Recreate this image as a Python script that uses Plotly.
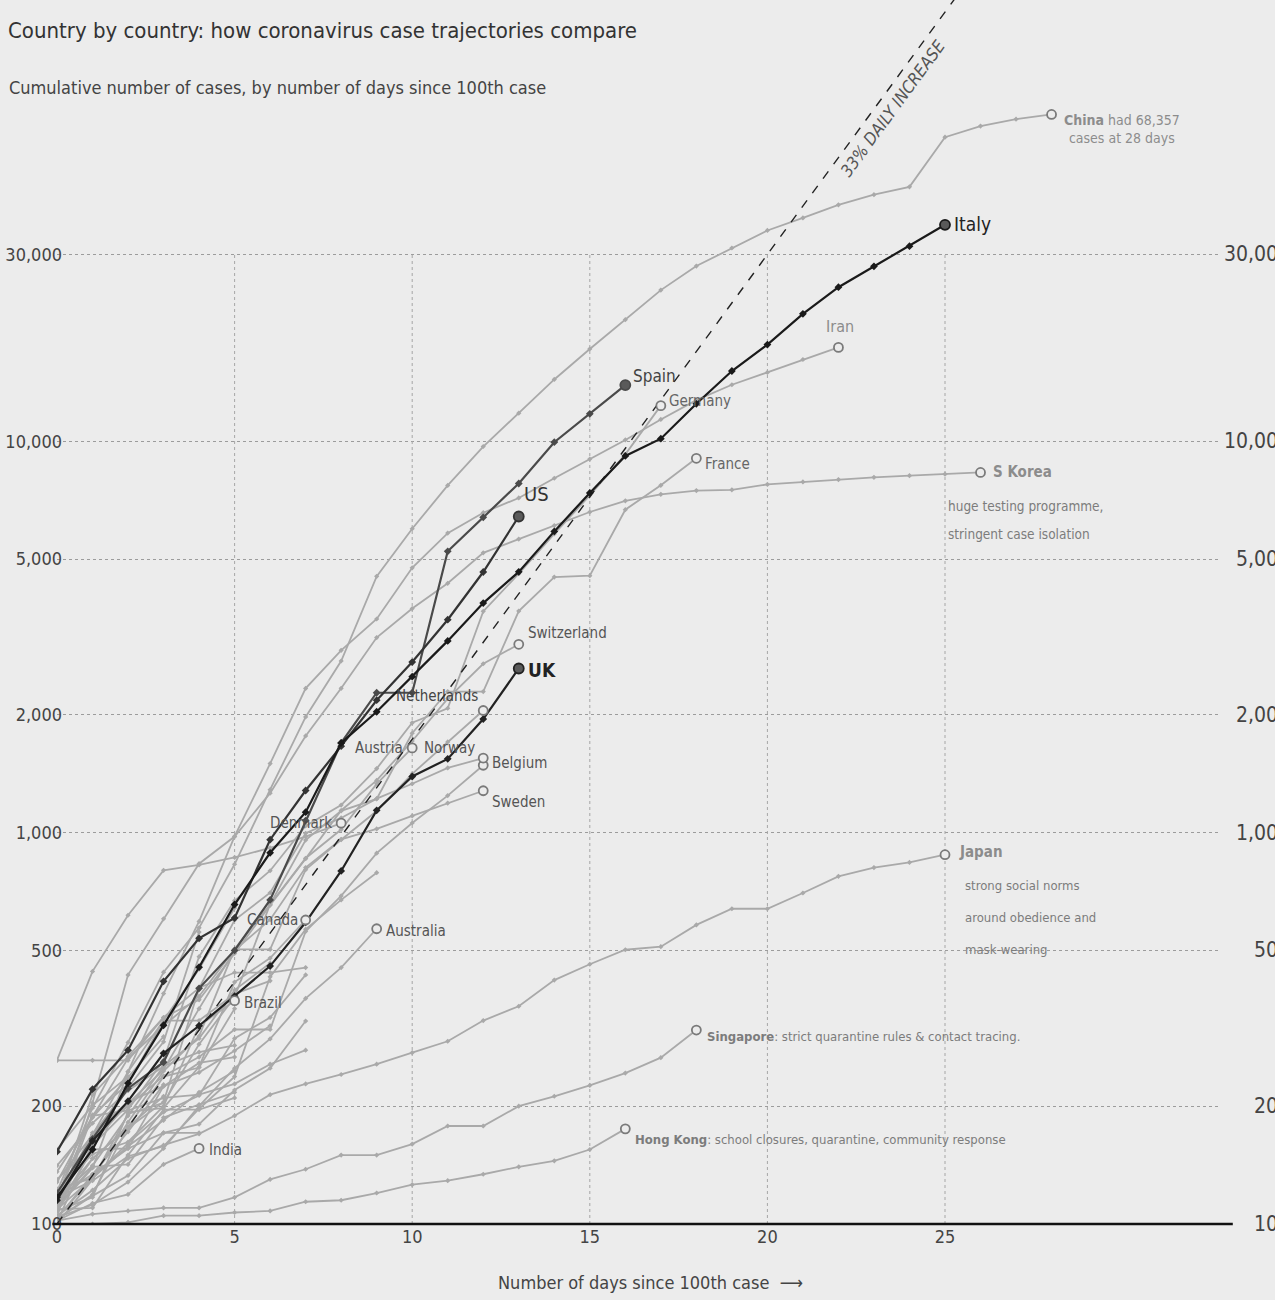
import math
import plotly.graph_objects as go

# ---------------- data: cumulative cases, list index = days since 100th case ----------------
china = [121, 198, 291, 440, 571, 830, 1287, 1975, 2744, 4515, 5974, 7711, 9692, 11791, 14380,
         17205, 20438, 24324, 28018, 31161, 34546, 37198, 40171, 42638, 44653, 59804, 63851,
         66492, 68357]
italy = [117, 155, 229, 322, 453, 655, 888, 1128, 1694, 2036, 2502, 3089, 3858, 4636, 5883, 7375,
         9172, 10149, 12462, 15113, 17660, 21157, 24747, 27980, 31506, 35713]
iran = [110, 139, 245, 388, 593, 978, 1501, 2336, 2922, 3513, 4747, 5823, 6566, 7161, 8042, 9000,
        10075, 11364, 12729, 13938, 14991, 16169, 17361]
spain = [120, 165, 222, 259, 400, 500, 673, 1073, 1695, 2277, 2277, 5232, 6391, 7798, 9942, 11748, 13910]
us = [153, 221, 278, 417, 537, 605, 959, 1281, 1663, 2179, 2727, 3499, 4632, 6421]
germany = [130, 159, 196, 262, 482, 670, 799, 1040, 1176, 1457, 1908, 2078, 3675, 4585, 5795, 7272,
           9257, 12327]
france = [100, 130, 191, 204, 288, 380, 656, 957, 1136, 1219, 1794, 2293, 2293, 3681, 4496, 4532,
          6683, 7715, 9043]
s_korea = [104, 204, 433, 602, 833, 977, 1261, 1766, 2337, 3150, 3736, 4335, 5186, 5621, 6088, 6593,
           7041, 7314, 7478, 7513, 7755, 7869, 7979, 8086, 8162, 8236, 8320]
japan = [105, 122, 147, 159, 170, 189, 214, 228, 241, 256, 274, 293, 331, 360, 420, 461, 502, 511,
         581, 639, 639, 701, 773, 814, 839, 878]
singapore = [102, 106, 108, 110, 110, 117, 130, 138, 150, 150, 160, 178, 178, 200, 212, 226, 243, 266, 313]
hong_kong = [100, 100, 101, 105, 105, 107, 108, 114, 115, 120, 126, 129, 134, 140, 145, 155, 175]
switzerland = [114, 214, 268, 337, 374, 491, 652, 858, 1139, 1359, 1714, 2200, 2700, 3028]
uk = [115, 163, 206, 273, 321, 382, 456, 590, 798, 1140, 1391, 1543, 1950, 2626]
netherlands = [128, 188, 265, 321, 382, 503, 503, 804, 959, 1135, 1413, 1705, 2051]
austria = [104, 131, 182, 246, 302, 504, 655, 860, 1018, 1332, 1646]
norway = [108, 147, 176, 205, 400, 598, 702, 996, 1090, 1221, 1333, 1463, 1550]
belgium = [109, 169, 200, 239, 267, 314, 314, 559, 689, 886, 1058, 1243, 1486]
sweden = [101, 161, 203, 248, 355, 500, 599, 814, 961, 1022, 1103, 1190, 1279]
denmark = [262, 442, 615, 801, 827, 864, 914, 977, 1057]
canada = [108, 117, 193, 198, 252, 415, 478, 598]
brazil = [121, 151, 162, 200, 321, 372]
australia = [104, 112, 128, 156, 200, 250, 297, 377, 452, 568]
india = [102, 113, 119, 142, 156]
# unlabelled countries in the grey bundle
malaysia = [117, 129, 149, 158, 197, 238, 428, 566, 673, 790]
qatar = [262, 262, 262, 337, 401, 439, 439, 452]
greece = [117, 190, 228, 331, 331, 387, 418]
portugal = [112, 169, 245, 331, 448, 642]
israel = [109, 131, 161, 193, 213, 298, 337, 433]
czechia = [116, 141, 189, 253, 298, 396, 464]
finland = [109, 155, 156, 225, 244, 277, 321]
ireland = [129, 169, 223, 292, 557]
iceland = [103, 134, 156, 171, 180, 220, 250, 330]
bahrain = [109, 189, 195, 210, 214, 228, 256, 278]
poland = [103, 119, 177, 238, 251, 355]
slovenia = [141, 181, 219, 253, 275, 286]
estonia = [115, 171, 205, 225, 258, 267]
egypt = [109, 110, 150, 196, 196, 210]
philippines = [111, 140, 142, 187, 202, 217]
romania = [123, 131, 158, 184, 217, 246]
saudi_arabia = [103, 118, 133, 171, 171]
indonesia = [117, 134, 172, 227]
thailand = [114, 147, 177, 212]
pakistan = [136, 187, 237, 301]
chile = [155, 201, 238]

# 33% daily increase guide
guide_start = 100
guide_rate = 0.33
guide_days = [0, 25.5]

x_ticks = [0, 5, 10, 15, 20, 25]
grid_days = [5, 10, 15, 20, 25]
y_ticks = [100, 200, 500, 1000, 2000, 5000, 10000, 30000]
y_tick_text = ["100", "200", "500", "1,000", "2,000", "5,000", "10,000", "30,000"]
grid_top = 30000

# ---------------- styling ----------------
FONT = "DejaVu Sans Condensed, Liberation Sans Narrow, sans-serif"
BG = "#ececec"
GREY = "#a9a9a9"

grey_series = [malaysia, qatar, greece, portugal, israel, czechia, finland, ireland, iceland,
               bahrain, poland, slovenia, estonia, egypt, philippines, romania, saudi_arabia,
               indonesia, thailand, pakistan, chile,
               hong_kong, singapore, japan, s_korea, india, brazil, australia, canada, denmark,
               sweden, belgium, norway, austria, netherlands, switzerland, france, germany,
               iran, china]
labelled_grey = [hong_kong, singapore, japan, s_korea, india, brazil, australia, canada, denmark,
                 sweden, belgium, norway, austria, netherlands, switzerland, france, germany,
                 iran, china]
dark_series = [(spain, "#4a4a4a"), (us, "#333333"), (uk, "#222222"), (italy, "#1a1a1a")]

fig = go.Figure()

# vertical gridlines (stop at the 30,000 line)
for d in grid_days:
    fig.add_trace(go.Scatter(x=[d, d], y=[y_ticks[0], grid_top], mode="lines",
                             line=dict(color="#a6a6a6", width=1, dash="dot"),
                             hoverinfo="skip", showlegend=False))

for s in grey_series:
    fig.add_trace(go.Scatter(x=list(range(len(s))), y=s, mode="lines+markers",
                             line=dict(color=GREY, width=1.8),
                             marker=dict(size=4, color=GREY, symbol="diamond"),
                             showlegend=False))

# 33% daily increase guide line
fig.add_trace(go.Scatter(x=guide_days, y=[guide_start * (1 + guide_rate) ** d for d in guide_days],
                         mode="lines", line=dict(color="#222222", width=1.4, dash="dash"),
                         showlegend=False))

for s, c in dark_series:
    fig.add_trace(go.Scatter(x=list(range(len(s))), y=s, mode="lines+markers",
                             line=dict(color=c, width=2.2),
                             marker=dict(size=6, color=c, symbol="diamond"),
                             showlegend=False))

# end markers
for s in labelled_grey:
    fig.add_trace(go.Scatter(x=[len(s) - 1], y=[s[-1]], mode="markers",
                             marker=dict(size=9, color=BG, symbol="circle",
                                         line=dict(color="#7a7a7a", width=1.8)),
                             showlegend=False))
for s, c in dark_series:
    fig.add_trace(go.Scatter(x=[len(s) - 1], y=[s[-1]], mode="markers",
                             marker=dict(size=10, color="#5a5a5a", symbol="circle",
                                         line=dict(color=c, width=1.8)),
                             showlegend=False))

annotations = []


def label(series, text, anchor="left", dx=7, dy=0, size=15, color="#555555", yanchor="middle", align="left"):
    annotations.append(dict(x=len(series) - 1, y=math.log10(series[-1]), xref="x", yref="y",
                            text=text, showarrow=False, xanchor=anchor, yanchor=yanchor,
                            xshift=dx, yshift=dy, align=align,
                            font=dict(family=FONT, size=size, color=color)))


label(china, "<b>China</b> had 68,357<br>cases at 28 days", dx=10, dy=-15, size=14,
      color="#8c8c8c", align="center")
label(italy, "Italy", dx=7, dy=1, size=19, color="#222222")
label(iran, "Iran", anchor="center", dx=2, dy=9, size=16, color="#8c8c8c", yanchor="bottom")
label(spain, "Spain", dx=6, dy=9, size=17, color="#444444")
label(germany, "Germany", dx=6, dy=5, size=15, color="#666666")
label(france, "France", dx=7, dy=-6, size=15, color="#666666")
label(us, "US", dx=3, dy=23, size=20, color="#333333")
label(s_korea, "<b>S Korea</b>", dx=10, dy=0, size=15, color="#8c8c8c")
label(switzerland, "Switzerland", dx=7, dy=11, size=15, color="#555555")
label(uk, "<b>UK</b>", dx=7, dy=-2, size=19, color="#222222")
label(netherlands, "Netherlands", anchor="right", dx=-3, dy=15, size=15, color="#444444")
label(austria, "Austria", anchor="right", dx=-7, dy=0, size=15, color="#555555")
label(norway, "Norway", anchor="right", dx=-6, dy=10, size=15, color="#555555")
label(belgium, "Belgium", dx=7, dy=2, size=15, color="#555555")
label(sweden, "Sweden", dx=7, dy=-11, size=15, color="#555555")
label(denmark, "Denmark", anchor="right", dx=-7, dy=0, size=15, color="#555555")
label(canada, "Canada", anchor="right", dx=-6, dy=0, size=15, color="#555555")
label(australia, "Australia", dx=7, dy=-2, size=15, color="#555555")
label(brazil, "Brazil", dx=7, dy=-2, size=15, color="#555555")
label(india, "India", dx=8, dy=-2, size=15, color="#555555")
label(japan, "<b>Japan</b>", dx=12, dy=3, size=15, color="#8c8c8c")
label(singapore, "<b>Singapore</b>: strict quarantine rules &amp; contact tracing.", dx=9, dy=-6,
      size=13, color="#7c7c7c")
label(hong_kong, "<b>Hong Kong</b>: school closures, quarantine, community response", dx=8, dy=-11,
      size=13, color="#7c7c7c")

# explanatory notes (one annotation per line for the wide print leading)
for i, t in enumerate(["huge testing programme,", "stringent case isolation"]):
    label(s_korea, t, dx=-35, dy=-34 - 28 * i, size=13.5, color="#7c7c7c")
for i, t in enumerate(["strong social norms", "around obedience and", "mask-wearing"]):
    label(japan, t, dx=18, dy=-31 - 32 * i, size=13, color="#7c7c7c")

# 33% label, rotated along the guide
g_day = 23.2
annotations.append(dict(x=g_day, y=math.log10(guide_start * (1 + guide_rate) ** g_day), xref="x", yref="y",
                        text="<i>33% DAILY INCREASE</i>", showarrow=False, textangle=-53.8,
                        xshift=12, yshift=-9,
                        font=dict(family=FONT, size=17, color="#555555")))

# right-hand duplicate axis labels (run off the page edge as in the print)
for v, t in zip(y_ticks, y_tick_text):
    annotations.append(dict(x=1, y=math.log10(v), xref="paper", yref="y", text=t, showarrow=False,
                            xanchor="right", yanchor="middle", xshift=72,
                            font=dict(family=FONT, size=21, color="#444444")))

# subtitle
annotations.append(dict(x=0, y=(1224 - 88) / 1224, xref="paper", yref="paper", xshift=-50,
                        text="Cumulative number of cases, by number of days since 100th case",
                        showarrow=False, xanchor="left", yanchor="middle",
                        font=dict(family=FONT, size=18, color="#444444")))

# x-axis title (centred slightly right of the plot centre, as printed)
annotations.append(dict(x=(650 - 57) / (1220 - 57), y=0, xref="paper", yref="paper", yshift=-58,
                        text="Number of days since 100th case  ⟶", showarrow=False,
                        xanchor="center", yanchor="middle",
                        font=dict(family=FONT, size=18, color="#444444")))

fig.update_layout(
    width=1275, height=1300,
    margin=dict(l=57, r=55, t=0, b=76),
    paper_bgcolor=BG, plot_bgcolor=BG,
    template="none",
    title=dict(text="Country by country: how coronavirus case trajectories compare",
               x=8 / 1275, xanchor="left", xref="container", y=1 - 30 / 1300, yanchor="middle",
               yref="container", font=dict(family=FONT, size=22, color="#333333")),
    annotations=annotations,
    shapes=[dict(type="line", xref="paper", yref="paper", x0=-0.004, x1=1.011, y0=0, y1=0,
                 line=dict(color="#111111", width=2.6), layer="above")],
    xaxis=dict(range=[0, (1220 - 57) / 35.52], tickvals=x_ticks, ticks="", showgrid=False,
               zeroline=False, showline=False, automargin=False,
               tickfont=dict(family=FONT, size=18, color="#444444")),
    yaxis=dict(type="log", range=[2, 2 + 1224 / 391.4], tickvals=y_ticks, ticktext=y_tick_text,
               ticks="", showgrid=True, gridcolor="#9c9c9c", griddash="dot", gridwidth=1,
               zeroline=False, showline=False, automargin=False, ticklabelstandoff=-6,
               tickfont=dict(family=FONT, size=18, color="#444444")),
    hovermode=False,
)

fig.write_html("out.html", config={"displayModeBar": False},
               post_script="document.body.style.margin='0px';")
